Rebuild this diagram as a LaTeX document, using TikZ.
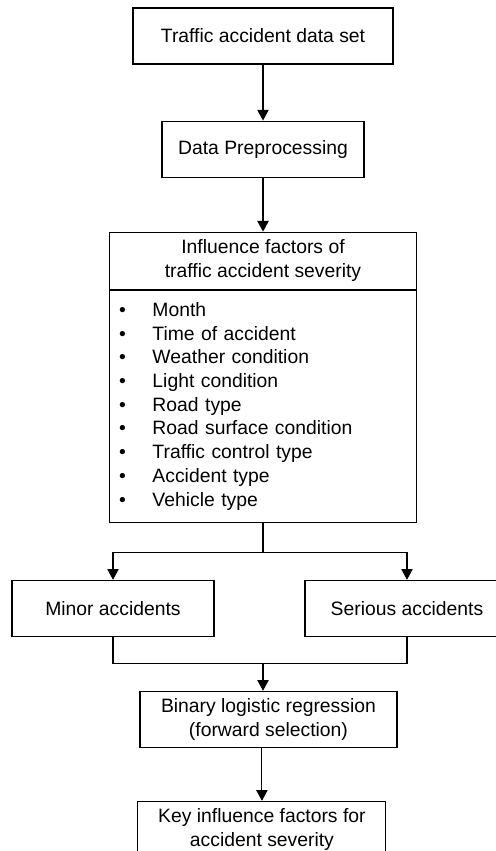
\documentclass[tikz,border=0pt]{standalone}
\usepackage{fontspec}
\setmainfont{Liberation Sans}
\usetikzlibrary{positioning,arrows.meta}
\tikzstyle{box}=[rectangle,draw,line width=0.8pt,align=center,minimum height=42pt,inner sep=2pt,font=\fontsize{14.5}{17.8}\selectfont]
\tikzstyle{listbox}=[box,align=left,inner xsep=7.25pt,text width=215.75pt,minimum width=230.25pt,minimum height=174pt]
\tikzstyle{line}=[line width=0.8pt]
\tikzstyle{arr}=[line,-{Triangle[length=8pt,width=8.5pt]}]
\newcommand{\itm}[1]{\makebox[25pt][l]{\textbullet}#1}

\begin{document}
\begin{tikzpicture}[node distance=42pt]
\useasboundingbox (0,0) rectangle (372pt,-638.25pt);
\node[box,minimum width=195pt] (data) at (197.25pt,-27pt) {Traffic accident data set};
\node[box,minimum width=151.5pt,below=of data] (prep) {Data Preprocessing};
\node[box,minimum width=230.25pt,minimum height=42.75pt,below=40.5pt of prep] (factors) {Influence factors of\\traffic accident severity};
\node[listbox,below=0pt of factors] (list) {\itm{Month}\\\itm{Time of accident}\\\itm{Weather condition}\\\itm{Light condition}\\\itm{Road type}\\\itm{Road surface condition}\\\itm{Traffic control type}\\\itm{Accident type}\\\itm{Vehicle type}};
\node[box,minimum width=151.5pt,below=42.75pt of list,xshift=-112.5pt] (minor) {Minor accidents};
\node[box,minimum width=153pt,below=42.75pt of list,xshift=108pt] (serious) {Serious accidents};
\node[box,minimum width=192.75pt,below=126pt of list,xshift=4.1pt] (logit) {Binary logistic regression\\(forward selection)};
\node[box,minimum width=186pt,below=39.75pt of logit,xshift=-4.9pt] (keyf) {Key influence factors for\\accident severity};
% connectors
\draw[arr] (data) -- (prep);
\draw[arr] (prep) -- (factors);
\draw[line] (list.south) -- ++(0,-22.5pt) coordinate (split);
\draw[arr] (split) -| (minor.north);
\draw[arr] (split) -| (serious.north);
\draw[line] (minor.south) -- ++(0,-20.25pt) coordinate (merge) -| (serious.south);
\coordinate (join) at (merge -| list.south);
\draw[arr] (join) -- (join |- logit.north);
\draw[arr] (logit.south -| keyf.north) -- (keyf.north);
\end{tikzpicture}
\end{document}
